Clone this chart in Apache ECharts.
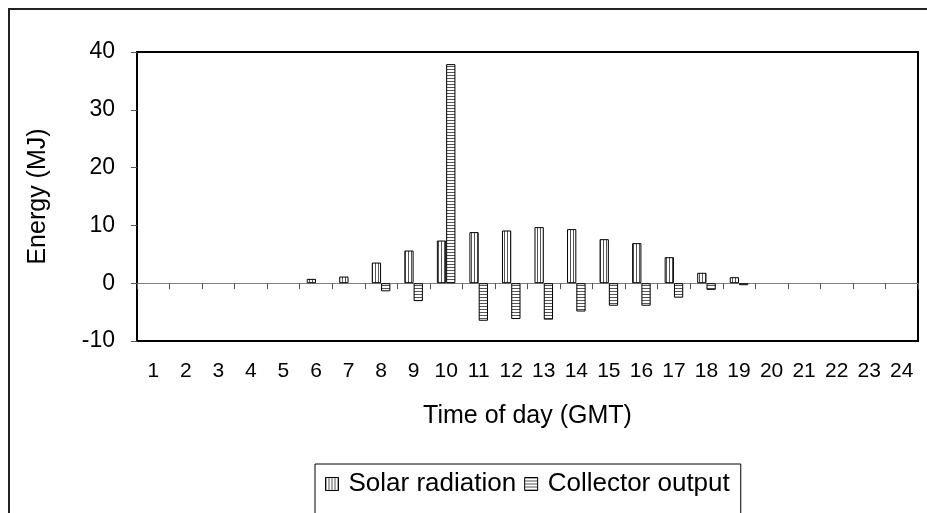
<!DOCTYPE html>
<html>
<head>
<meta charset="utf-8">
<script src="https://cdn.jsdelivr.net/npm/echarts@6/dist/echarts.min.js"></script>
<style>
html,body{margin:0;padding:0;background:#fff;}
#chart{width:927px;height:513px;}
</style>
</head>
<body>
<div id="chart"></div>
<script>
const hours = ['1','2','3','4','5','6','7','8','9','10','11','12','13','14','15','16','17','18','19','20','21','22','23','24'];
const solarRadiation = [null,null,null,null,null,0.75,1.15,3.57,5.65,7.38,8.84,9.12,9.7,9.36,7.62,6.93,4.5,1.8,1.04,null,null,null,null,null];
const collectorOutput = [null,null,null,null,null,null,null,-1.4,-3.1,37.9,-6.5,-6.2,-6.3,-4.9,-3.9,-3.9,-2.5,-1.15,-0.35,null,null,null,null,null];
const yTicks = {min:-10, max:40, interval:10};

function makePattern(vertical){
  const c = document.createElement('canvas');
  c.width = 3; c.height = 3;
  const ctx = c.getContext('2d');
  ctx.fillStyle = '#fff';
  ctx.fillRect(0,0,3,3);
  ctx.fillStyle = '#555';
  if (vertical) ctx.fillRect(0,0,1,3); else ctx.fillRect(0,0,3,1);
  return {image: c, repeat: 'repeat'};
}
const solarPat = makePattern(true);
const collPat = makePattern(false);

const chart = echarts.init(document.getElementById('chart'), null, {renderer:'canvas'});
const font = 'Liberation Sans, Arial, sans-serif';
chart.setOption({
  animation:false,
  backgroundColor:'#fff',
  textStyle:{fontFamily:font, color:'#000'},
  graphic:[{type:'rect', shape:{x:9,y:9,width:1000,height:600}, style:{fill:'none', stroke:'#222', lineWidth:2}, z:-1}],
  grid:{left:137, right:9, top:52, bottom:172, show:true, borderColor:'#000', borderWidth:2, backgroundColor:'transparent'},
  legend:{
    left:315, top:464, padding:[7,11,30,10],
    borderColor:'#000', borderWidth:1,
    itemWidth:13, itemHeight:13, itemGap:8,
    icon:'rect',
    itemStyle:{borderColor:'#000', borderWidth:1},
    textStyle:{fontSize:26, color:'#000', fontFamily:font, padding:[0,0,0,5]},
    data:['Solar radiation','Collector output']
  },
  xAxis:[
    {type:'category', data:hours, position:'bottom',
     axisLine:{onZero:true, lineStyle:{color:'#808080', width:1}},
     axisTick:{show:true, length:6, lineStyle:{color:'#555'}},
     axisLabel:{show:false}},
    {type:'category', data:hours, position:'bottom',
     axisLine:{show:false, onZero:false}, axisTick:{show:false},
     axisLabel:{fontSize:21, color:'#000', margin:20, fontFamily:font},
     name:'Time of day (GMT)', nameLocation:'middle', nameGap:63,
     nameTextStyle:{fontSize:25, color:'#000', fontFamily:font}}
  ],
  yAxis:{
    type:'value', min:yTicks.min, max:yTicks.max, interval:yTicks.interval,
    axisLine:{show:true, lineStyle:{color:'#000', width:2}},
    axisTick:{show:true, length:6, lineStyle:{color:'#555'}},
    axisLabel:{fontSize:23, color:'#000', margin:22, fontFamily:font},
    splitLine:{show:false},
    name:'Energy (MJ)', nameLocation:'middle', nameGap:86,
    nameTextStyle:{fontSize:25, color:'#000', fontFamily:font}
  },
  series:[
    {name:'Solar radiation', type:'bar', xAxisIndex:0, data:solarRadiation,
     barWidth:'28.5%', barGap:'0%',
     itemStyle:{color:solarPat, borderColor:'#000', borderWidth:1}},
    {name:'Collector output', type:'bar', xAxisIndex:0, data:collectorOutput,
     barWidth:'28.5%', barGap:'0%',
     itemStyle:{color:collPat, borderColor:'#000', borderWidth:1}}
  ]
});
</script>
</body>
</html>
